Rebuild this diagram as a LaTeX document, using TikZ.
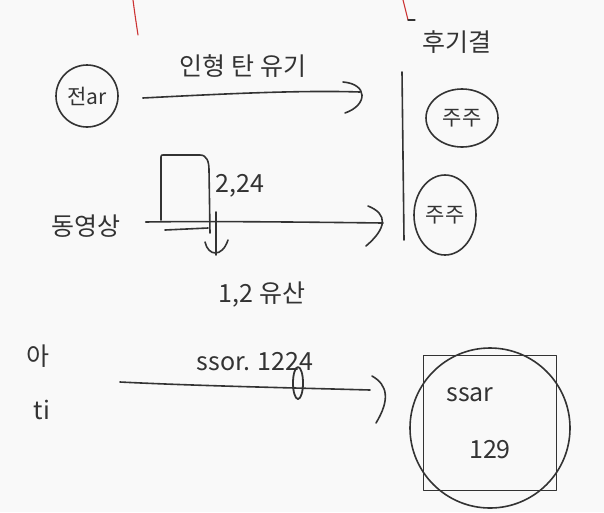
\documentclass[tikz,border=0pt]{standalone}
\usepackage{fontspec}
\newfontfamily\kr{Noto Sans CJK KR}
\usetikzlibrary{shapes.geometric}
\begin{document}
\begin{tikzpicture}[x=1pt,y=-1pt,
  ink/.style={draw=black!80, line width=1.6pt, line cap=round, line join=round},
  red ink/.style={draw=red!75!black!80, line width=1.1pt, line cap=round},
  hw/.style={font=\kr\fontsize{25}{28}\selectfont, text=black!80, inner sep=1pt},
  hws/.style={font=\kr\fontsize{21}{24}\selectfont, text=black!80, inner sep=1pt},
  ring/.style={ink, circle, inner sep=2pt},
  oval/.style={ink, ellipse, inner sep=1pt}]
\fill[gray!5] (0,0) rectangle (604,512);
\useasboundingbox (0,0) rectangle (604,512);

% red margin marks
\draw[red ink] (133,0) .. controls (135,15) .. (138,35);
\draw[red ink] (403,0) .. controls (405,10) .. (408,20);
\draw[ink, line width=1.2pt] (408,20) -- (415,20);

% row 1
\node[ring, minimum size=62pt, hws] (jeon) at (87,96) {전ar};
\coordinate (e1) at (360,92);
\draw[ink] (jeon.east) ++(24,2) coordinate (s1) (s1) .. controls (220,94) and (300,90) .. (e1);
\draw[ink] (343,82) .. controls (368,84) and (368,105) .. (345,113);
\node[hw] (lab1) at (243,66) {인형 탄 유기};

\node[hw] (hugi) at (457,42) {후기결};
\coordinate (vtop) at (402,72);
\coordinate (vbot) at (404,240);
\draw[ink] (vtop) -- (vbot);
\node[oval, minimum width=72pt, minimum height=58pt, hws] (c1) at (462,118) {주주};
\node[oval, minimum width=62pt, minimum height=80pt, hws] (c2) at (445,215) {주주};

% row 2
\node[hw] (dong) at (86,226) {동영상};
\draw[ink] (161,220) -- (161,157) .. controls (161,155) .. (165,155) -- (200,155) .. controls (207,155) and (209,162) .. (209,170) -- (210,233);
\draw[ink] (165,230) -- (208,228);
\coordinate (e2) at (383,223);
\draw[ink] (dong.east) ++(24,-4) coordinate (s2) (s2) .. controls (200,221) and (300,222) .. (e2);
\draw[ink] (368,206) .. controls (388,214) and (387,228) .. (366,246);
\node[hw] (l224) at (240,186) {2,24};
\node[hw] (ypos) at (262,295) {1,2 유산};
\draw[ink] (216,212) -- (216,255);
\draw[ink] (205,242) .. controls (208,256) and (222,258) .. (228,240);

% row 3
\node[hw] (a1) at (38,356) {아};
\node[hw] (a2) at (42,410) {ti};
\coordinate (s3) at (120,382);
\coordinate (e3) at (370,390);
\draw[ink] (s3) .. controls (200,386) and (300,388) .. (e3);
\node[hw] (l3) at (255,362) {ssor. 1224};
\draw[ink, line width=1.8pt] (298,383) ellipse (5pt and 16pt);
\draw[ink] (372,376) .. controls (388,385) and (390,400) .. (376,423);
\node[ink, draw, minimum width=133pt, minimum height=135pt] (box) at (490,423) {};
\node[ring, minimum size=160pt] (circ) at (490,428) {};
\node[hw] (ssar) at (470,395) {ssar};
\node[hw] (n129) at (490,450) {129};
\end{tikzpicture}
\end{document}
